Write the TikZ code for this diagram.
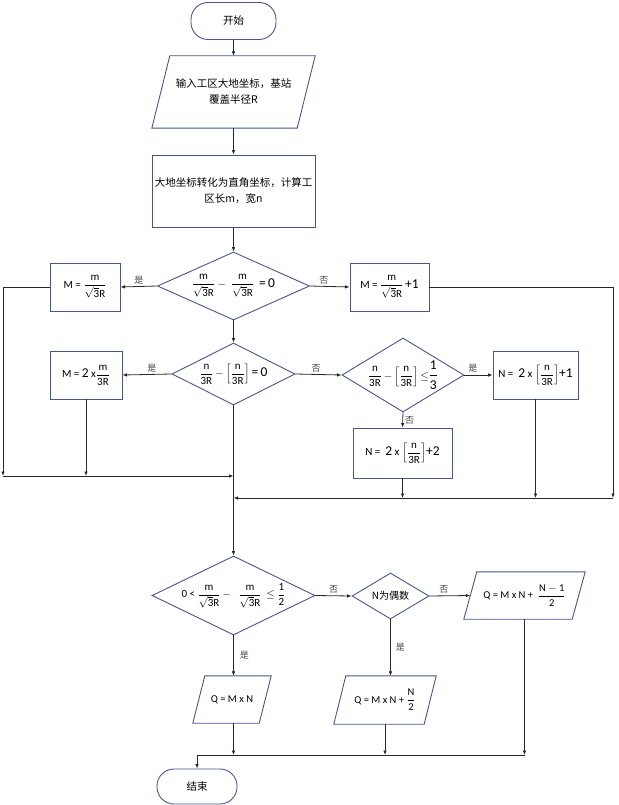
\documentclass[tikz,border=0pt]{standalone}
\usepackage{amsmath}
\usepackage{fontspec}
\setmainfont{Carlito}
\newfontfamily\cjk{Noto Sans CJK SC}
\usetikzlibrary{shapes.geometric,arrows.meta,calc}
\definecolor{shp}{RGB}{72,86,138}
\definecolor{con}{RGB}{40,40,40}
\definecolor{lblc}{RGB}{70,70,70}
\newcommand\fr[2]{\ensuremath{\dfrac{\text{#1}}{\text{#2}}}}
\newcommand\sqr{\ensuremath{\sqrt{\text{3}}}R}
\newcommand\flr[2]{\ensuremath{\left[\dfrac{\text{#1}}{\text{#2}}\right]}}
\newcommand\mns{\ensuremath{-}}
\newcommand\lgf{\fontsize{13.5}{15}\selectfont}
\newcommand\para[2]{\draw[shpline] ($(#1.north west)+(#2,0)$) -- (#1.north east) -- ($(#1.south east)+(-#2,0)$) -- (#1.south west) -- cycle;}
\tikzset{
  shpline/.style={draw=shp, line width=0.9pt},
  box/.style={shpline, rectangle, inner sep=1pt, align=center, font=\fontsize{11}{13}\selectfont},
  cbox/.style={box, font=\cjk\fontsize{10.5}{16}\selectfont},
  term/.style={shpline, rectangle, rounded corners=17pt, align=center, font=\cjk\fontsize{10.5}{13}\selectfont},
  dec/.style={shpline, diamond, inner sep=-3pt, align=center, font=\fontsize{11}{13}\selectfont},
  ptext/.style={rectangle, inner sep=0pt, align=center, font=\fontsize{10.5}{13}\selectfont},
  conn/.style={draw=con, line width=0.8pt},
  arr/.style={conn, -{Latex[length=4.5pt,width=3.6pt]}},
  lbl/.style={font=\cjk\fontsize{9}{10}\selectfont, text=lblc, inner sep=2pt}
}
\begin{document}
\begin{tikzpicture}[x=1pt,y=-1pt]
\useasboundingbox (0,0) rectangle (618,805);
% nodes
\node[term, minimum width=85pt, minimum height=37pt] (start) at (233.5,21) {开始};
\node[ptext, minimum width=163pt, minimum height=72pt, font=\cjk\fontsize{10.5}{16}\selectfont] (in) at (233.5,92) {输入工区大地坐标，基站\\覆盖半径R};
\para{in}{18}
\node[cbox, minimum width=163pt, minimum height=72pt] (proc) at (233.5,191) {大地坐标转化为直角坐标，计算工\\区长m，宽n};
\node[dec, minimum width=152pt, minimum height=68pt, aspect=2.2] (d1) at (233.5,286) {\fr{m}{\sqr}\ \mns\ \ \fr{m}{\sqr}\ \ {\lgf =\,0}};
\node[box, minimum width=70pt, minimum height=48pt] (m1) at (85,287) {M = \fr{m}{\sqr}};
\node[box, minimum width=79pt, minimum height=48pt] (m2) at (389.5,287) {M = \fr{m}{\sqr}\,{\lgf +1}};
\node[dec, minimum width=123pt, minimum height=62pt, aspect=2] (d2) at (233.5,374) {\fr{n}{3R}\,\mns\,\flr{n}{3R}\,{\lgf =\,0}};
\node[box, minimum width=72pt, minimum height=48pt] (m3) at (86,375) {M = {\lgf 2} x\fr{m}{3R}};
\node[dec, minimum width=122pt, minimum height=74pt, aspect=1.65] (d3) at (403,375) {\fr{n}{3R}\,\mns\,\flr{n}{3R}\,\ensuremath{\leq}{\lgf\fr{1}{3}}};
\node[box, minimum width=85pt, minimum height=48pt] (n1) at (535.5,375) {N = \ {\lgf 2} x \flr{n}{3R}{\lgf +1}};
\node[box, minimum width=99pt, minimum height=50pt] (n2) at (402.5,453) {N = \ {\lgf 2} x \flr{n}{3R}{\lgf +2}};
\node[dec, minimum width=163pt, minimum height=79pt, aspect=2.06] (d4) at (233.5,595.5) {0 < \fr{m}{\sqr}\,\mns\ \ \ \fr{m}{\sqr}\ \ \ensuremath{\leq}\ \fr{1}{2}};
\node[dec, minimum width=77pt, minimum height=46pt, aspect=1.67, font=\cjk\fontsize{10}{12}\selectfont] (d5) at (390.5,596) {N为偶数};
\node[ptext, minimum width=121pt, minimum height=47pt] (q3) at (524.5,595.5) {Q = M x N + \ \fr{N \mns\ 1}{2}};
\para{q3}{13}
\node[ptext, minimum width=102pt, minimum height=48pt] (q2) at (385,700) {Q = M x N + \fr{N}{2}};
\para{q2}{12}
\node[ptext, minimum width=78pt, minimum height=47pt] (q1) at (232,699.5) {Q = M x N};
\para{q1}{12}
\node[term, minimum width=80pt, minimum height=35pt] (end) at (197,786.5) {结束};
% coordinates
\coordinate (L1) at (3,476);
\coordinate (J1) at (233.5,476);
\coordinate (R1) at (613,498);
\coordinate (J2) at (233.5,498);
\coordinate (B) at (524.5,755);
% connectors
\draw[arr] (start.south) -- (in.north);
\draw[arr] (in.south) -- (proc.north);
\draw[arr] (proc.south) -- (d1.north);
\draw[arr] (d1.west) -- node[lbl, above] {是} (m1.east);
\draw[arr] (d1.east) -- node[lbl, above, pos=0.35] {否} (m2.west);
\draw[arr] (d1.south) -- (d2.north);
\draw[arr] (d2.west) -- node[lbl, above, pos=0.4] {是} (m3.east);
\draw[arr] (d2.east) -- node[lbl, above, pos=0.45] {否} (d3.west);
\draw[arr] (d3.east) -- node[lbl, above, pos=0.3] {是} (n1.west);
\draw[arr] (d3.south) -- node[lbl, right] {否} (n2.north);
\draw[arr] (m1.west) -| (L1);
\draw[arr] (m3.south) -- (m3.south |- L1);
\draw[arr] (L1) -- (J1);
\draw[arr] (m2.east) -| (R1);
\draw[arr] (n1.south) -- (n1.south |- R1);
\draw[arr] (n2.south) -- (n2.south |- R1);
\draw[arr] (R1) -- (J2);
\draw[arr] (d2.south) -- (d4.north);
\draw[arr] (d4.east) -- node[lbl, above] {否} (d5.west);
\draw[arr] (d5.east) -- node[lbl, above, pos=0.35] {否} ($(q3.west)+(6.5,0)$);
\draw[arr] (d4.south) -- node[lbl, right, xshift=4pt] {是} (d4.south |- q1.north);
\draw[arr] (d5.south) -- node[lbl, right, xshift=3pt] {是} (d5.south |- q2.north);
\draw[arr] (d4.south |- q1.south) -- (d4.south |- B);
\draw[arr] (q2.south) -- (q2.south |- B);
\draw[arr] (q3.south) -- (B);
\draw[arr] (B) -| (end.north);
\end{tikzpicture}
\end{document}
